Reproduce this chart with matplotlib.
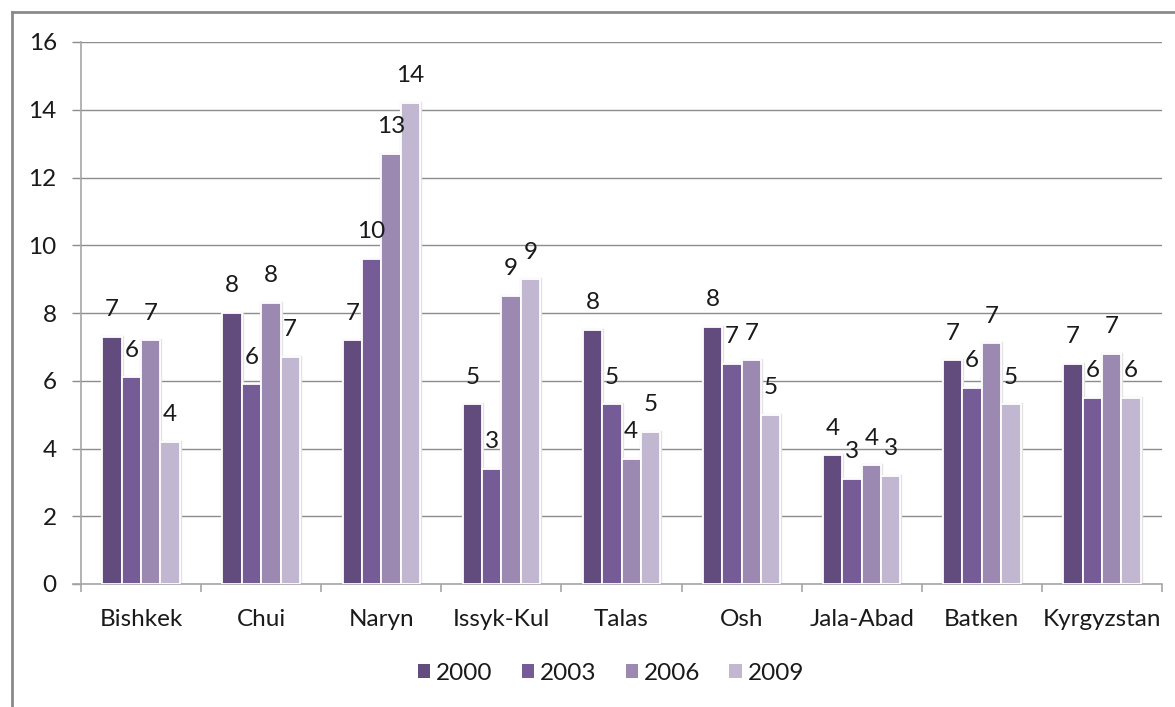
import math
import matplotlib
matplotlib.use("Agg")
import matplotlib.pyplot as plt
from matplotlib.lines import Line2D
from matplotlib.patches import Patch
import numpy as np

plt.rcParams['font.family'] = ['Lato', 'DejaVu Sans']

regions = ["Bishkek", "Chui", "Naryn", "Issyk-Kul", "Talas", "Osh",
           "Jala-Abad", "Batken", "Kyrgyzstan"]
years = ["2000", "2003", "2006", "2009"]

v2000 = [7.3, 8.0, 7.2, 5.3, 7.5, 7.6, 3.8, 6.6, 6.5]
v2003 = [6.1, 5.9, 9.6, 3.4, 5.3, 6.5, 3.1, 5.8, 5.5]
v2006 = [7.2, 8.3, 12.7, 8.5, 3.7, 6.6, 3.5, 7.1, 6.8]
v2009 = [4.2, 6.7, 14.2, 9.0, 4.5, 5.0, 3.2, 5.3, 5.5]
series = [v2000, v2003, v2006, v2009]

colors = ["#624C7D", "#765C96", "#9B89B2", "#C2B7D0"]
text_color = "#1a1a1a"
grid_color = "#8c8c8c"
axis_color = "#a6a6a6"

W, H = 1175, 707
fig = plt.figure(figsize=(W / 100, H / 100), dpi=100)
ax = fig.add_axes([81 / W, 1 - 584 / H, (1162 - 81) / W, (584 - 42) / H])

x = np.arange(len(regions))
bw = 0.161
offsets = (np.arange(len(years)) - 1.5) * bw


def half_up(v):
    return int(math.floor(v + 0.5))


for k, (vals, col) in enumerate(zip(series, colors)):
    xs = x + offsets[k]
    # soft outline behind each bar
    ax.bar(xs, vals, width=bw, color="none", edgecolor="#e2e2e2",
           linewidth=2.4, zorder=2)
    ax.bar(xs, vals, width=bw, color=col, edgecolor="white",
           linewidth=1.3, zorder=3, label=years[k])
    for xi, v in zip(xs, vals):
        ax.annotate(str(half_up(v)), (xi, v), xytext=(0, 19.5),
                    textcoords="offset points", ha="center", va="center",
                    fontsize=17.5, color=text_color, zorder=4)

ax.set_xlim(-0.5, len(regions) - 0.5)
ax.set_ylim(0, 16)
ax.set_yticks(np.arange(0, 17, 2))
ax.yaxis.grid(True, color=grid_color, linewidth=1.0, zorder=0)
ax.set_axisbelow(True)

for s in ["top", "right"]:
    ax.spines[s].set_visible(False)
ax.spines["left"].set_color(axis_color)
ax.spines["left"].set_linewidth(1.2)
ax.spines["bottom"].set_color(axis_color)
ax.spines["bottom"].set_linewidth(1.2)
ax.spines["bottom"].set_bounds(-0.5 - 8 / 120, len(regions) - 0.5)

ax.set_xticks(x)
ax.set_xticklabels(regions)
ax.set_xticks(np.arange(-0.5, len(regions), 1.0), minor=True)
ax.tick_params(axis="x", which="major", length=0, pad=18, labelsize=17.5,
               labelcolor=text_color)
ax.tick_params(axis="x", which="minor", length=6, width=1.2, color=axis_color,
               direction="out")
ax.tick_params(axis="y", length=6.5, width=1.0, color=grid_color, pad=11,
               labelsize=17.5, labelcolor=text_color)

handles = [Patch(facecolor=c, edgecolor="none") for c in colors]
fig.legend(handles, years, loc="center", bbox_to_anchor=(611 / W, 1 - 673 / H),
           ncol=4, frameon=False, fontsize=17.5, handlelength=0.5,
           handleheight=0.5, handletextpad=0.25, columnspacing=1.2,
           labelcolor=text_color)

# chart frame
fig.add_artist(Line2D([12 / W, 1.0], [1 - 12 / H, 1 - 12 / H],
                      color="#8a8a8a", linewidth=2.0))
fig.add_artist(Line2D([12 / W, 12 / W], [1 - 12 / H, 0.0],
                      color="#8a8a8a", linewidth=2.0))

fig.savefig("out.png", dpi=100, facecolor="white")
